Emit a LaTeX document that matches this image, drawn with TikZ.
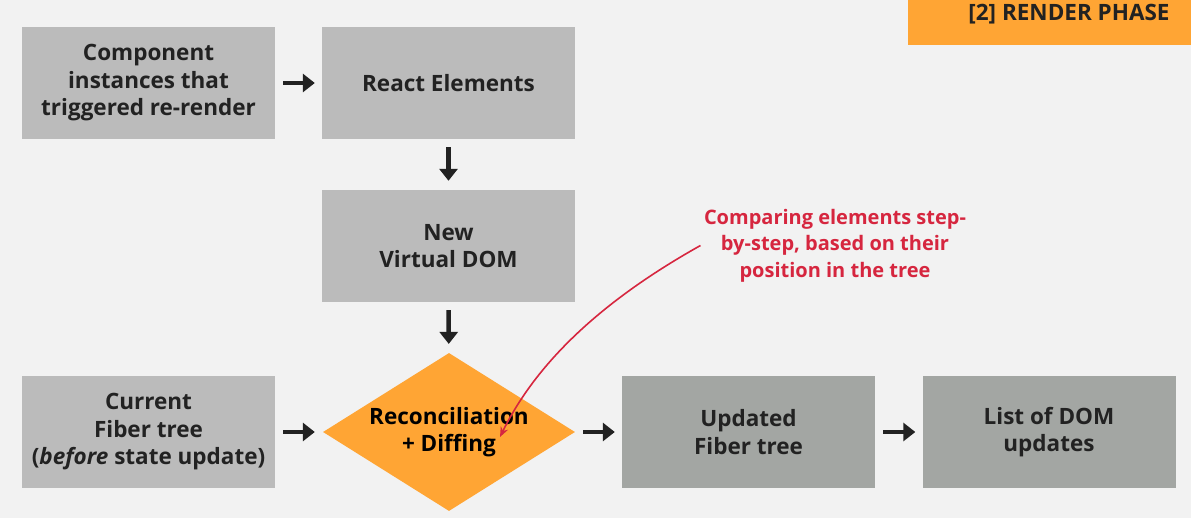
\documentclass[tikz,border=0pt]{standalone}
\usepackage{fontspec}
\setmainfont{Open Sans}
\usetikzlibrary{shapes.geometric,arrows.meta}
\definecolor{bgGray}{HTML}{F2F2F2}
\definecolor{boxLight}{HTML}{BBBBBB}
\definecolor{boxDark}{HTML}{A3A6A3}
\definecolor{phaseOrange}{HTML}{FFA534}
\definecolor{noteRed}{HTML}{D6263F}
\definecolor{inkDark}{HTML}{222222}
\tikzset{
  box/.style={fill=boxLight, minimum width=253pt, minimum height=112pt, inner sep=0pt},
  boxdark/.style={box, fill=boxDark},
  flow/.style={draw=inkDark, line width=4.5pt, -{Triangle[length=12pt,width=18pt]}},
}
\begin{document}
\begin{tikzpicture}[x=1pt, y=-1pt,
    every node/.style={font=\bfseries\fontsize{22.5}{27.5}\selectfont, align=center, text=inkDark}]
    \fill[bgGray] (0,0) rectangle (1191,518);
    \useasboundingbox (0,0) rectangle (1191,518);
    % phase tag
    \fill[phaseOrange] (908,0) rectangle (1191,45);
    \node[font=\bfseries\fontsize{22.5}{26}\selectfont] (phase) at (1069,14) {[2] RENDER PHASE};
    % boxes
    \node[box] (trigger) at (148.5,83) {Component\\instances that\\triggered re-render};
    \node[box] (elements) at (448.5,83) {React Elements};
    \node[box] (vdom) at (448.5,246) {New\\Virtual DOM};
    \node[box] (current) at (148.5,432) {Current\\Fiber tree\\(\textit{before} state update)};
    \node[diamond, fill=phaseOrange, inner sep=0pt, aspect=1.6,
          minimum width=252pt, minimum height=158pt, text=black] (diff) at (449,432) {Reconciliation\\+ Diffing};
    \node[boxdark] (updated) at (748.5,432) {Updated\\Fiber tree};
    \node[boxdark] (domlist) at (1049,432) {List of DOM\\updates};
    % flow arrows
    \draw[flow, shorten <=8pt, shorten >=7pt] (trigger) -- (elements);
    \draw[flow, shorten <=8pt, shorten >=9pt] (elements) -- (vdom);
    \draw[flow, shorten <=8pt, shorten >=9pt] (vdom) -- (diff);
    \draw[flow, shorten <=8pt, shorten >=8pt] (current) -- (diff);
    \draw[flow, shorten <=8pt, shorten >=7pt] (diff) -- (updated);
    \draw[flow, shorten <=8pt, shorten >=7pt] (updated) -- (domlist);
    % annotation
    \node[text=noteRed, font=\bfseries\fontsize{20}{26.5}\selectfont] (note) at (835,245.5)
        {Comparing elements step-\\by-step, based on their\\position in the tree};
    \coordinate (tip) at (500,437);
    \draw[noteRed, line width=1.6pt, -{Stealth[length=10pt,width=8pt]}]
        (note.west) .. controls (630,285) and (545,345) .. (tip);
\end{tikzpicture}
\end{document}
